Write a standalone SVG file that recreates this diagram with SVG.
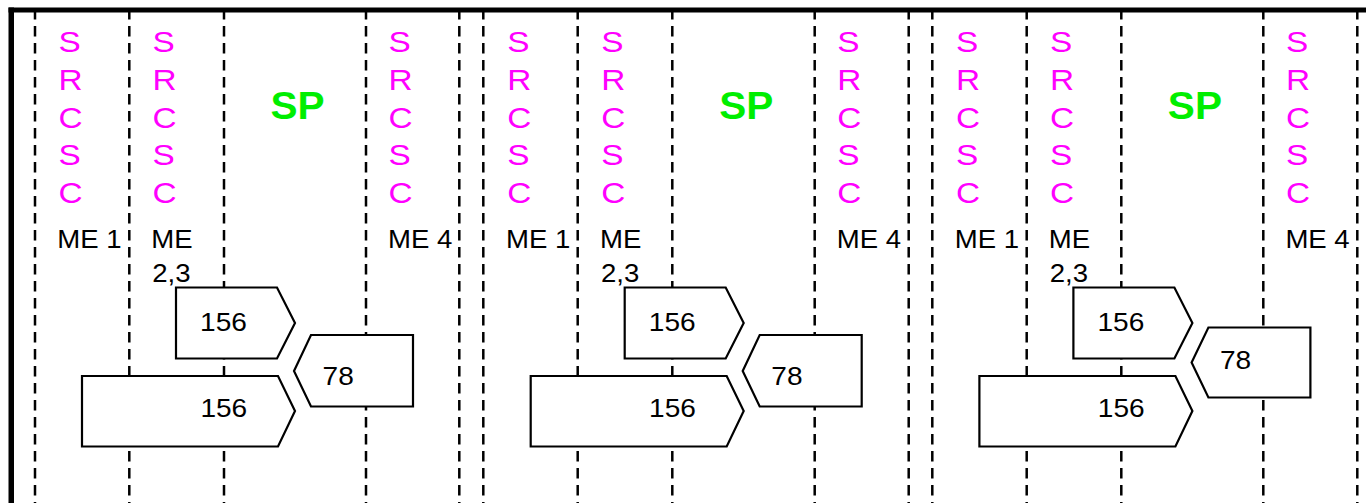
<svg xmlns="http://www.w3.org/2000/svg" width="1366" height="503" viewBox="0 0 1366 503">
<style>
.dash{stroke:#000;stroke-width:2.5;stroke-dasharray:10.5 6.5;fill:none}
.box{fill:#fff;stroke:#000;stroke-width:2.2}
.mg{font-family:"Liberation Sans",Arial,sans-serif;font-size:29px;fill:#ff00ff}
.sp{font-family:"Liberation Sans",Arial,sans-serif;font-size:39px;font-weight:bold;fill:#00ee00;text-anchor:middle}
.me{font-family:"Liberation Sans",Arial,sans-serif;font-size:26.5px;fill:#000}
.num{font-family:"Liberation Sans",Arial,sans-serif;font-size:26.5px;fill:#000;text-anchor:middle}
</style>
<rect width="1366" height="503" fill="#fff"/>
<g id="frame">
<rect x="8.5" y="7.5" width="1357.5" height="5" fill="#000"/>
<rect x="8.5" y="7.5" width="5.5" height="495.5" fill="#000"/>
</g>
<g id="connectors">
<line class="dash" x1="35" y1="9" x2="35" y2="503"/>
<line class="dash" x1="129.3" y1="9" x2="129.3" y2="503"/>
<line class="dash" x1="224" y1="9" x2="224" y2="503"/>
<line class="dash" x1="366" y1="9" x2="366" y2="503"/>
<line class="dash" x1="459.3" y1="9" x2="459.3" y2="503"/>
<line class="dash" x1="483.3" y1="9" x2="483.3" y2="503"/>
<line class="dash" x1="577.7" y1="9" x2="577.7" y2="503"/>
<line class="dash" x1="672.3" y1="9" x2="672.3" y2="503"/>
<line class="dash" x1="814.7" y1="9" x2="814.7" y2="503"/>
<line class="dash" x1="908.7" y1="9" x2="908.7" y2="503"/>
<line class="dash" x1="932.3" y1="9" x2="932.3" y2="503"/>
<line class="dash" x1="1026.7" y1="9" x2="1026.7" y2="503"/>
<line class="dash" x1="1121.3" y1="9" x2="1121.3" y2="503"/>
<line class="dash" x1="1263.3" y1="9" x2="1263.3" y2="503"/>
<line class="dash" x1="1357.3" y1="9" x2="1357.3" y2="503"/>
</g>

<g id="panel1-labels">
<g transform="translate(58.5,0) scale(1.15,1)"><text class="mg" x="0" y="52">S</text><text class="mg" x="0" y="89.8">R</text><text class="mg" x="0" y="127.6">C</text><text class="mg" x="0" y="165.4">S</text><text class="mg" x="0" y="203.2">C</text></g>
<g transform="translate(152.5,0) scale(1.15,1)"><text class="mg" x="0" y="52">S</text><text class="mg" x="0" y="89.8">R</text><text class="mg" x="0" y="127.6">C</text><text class="mg" x="0" y="165.4">S</text><text class="mg" x="0" y="203.2">C</text></g>
<g transform="translate(388.5,0) scale(1.15,1)"><text class="mg" x="0" y="52">S</text><text class="mg" x="0" y="89.8">R</text><text class="mg" x="0" y="127.6">C</text><text class="mg" x="0" y="165.4">S</text><text class="mg" x="0" y="203.2">C</text></g>
<text class="sp" transform="translate(297.5,119) scale(1.04,1)">SP</text>
<text class="me" transform="translate(57.3,248.3) scale(1.04,1)">ME 1</text>
<text class="me" transform="translate(151.3,248.3) scale(1.04,1)">ME</text>
<text class="me" transform="translate(152.3,281.5) scale(1.04,1)">2,3</text>
<text class="me" transform="translate(388,248.3) scale(1.04,1)">ME 4</text>
</g>
<g id="p1-box156a"><polygon class="box" points="176,287.5 277,287.5 295,323 277,358.5 176,358.5"/><text class="num" transform="translate(223.5,331.3) scale(1.06,1)">156</text></g>
<g id="p1-box156b"><polygon class="box" points="82,376 278,376 295,411 278,446.5 82,446.5"/><text class="num" transform="translate(223.8,417) scale(1.06,1)">156</text></g>
<g id="p1-box78"><polygon class="box" points="413,335 311,335 294,371 311,406.5 413,406.5"/><text class="num" transform="translate(338.2,384.7) scale(1.06,1)">78</text></g>

<g id="panel2-labels">
<g transform="translate(507.2,0) scale(1.15,1)"><text class="mg" x="0" y="52">S</text><text class="mg" x="0" y="89.8">R</text><text class="mg" x="0" y="127.6">C</text><text class="mg" x="0" y="165.4">S</text><text class="mg" x="0" y="203.2">C</text></g>
<g transform="translate(601.2,0) scale(1.15,1)"><text class="mg" x="0" y="52">S</text><text class="mg" x="0" y="89.8">R</text><text class="mg" x="0" y="127.6">C</text><text class="mg" x="0" y="165.4">S</text><text class="mg" x="0" y="203.2">C</text></g>
<g transform="translate(837.2,0) scale(1.15,1)"><text class="mg" x="0" y="52">S</text><text class="mg" x="0" y="89.8">R</text><text class="mg" x="0" y="127.6">C</text><text class="mg" x="0" y="165.4">S</text><text class="mg" x="0" y="203.2">C</text></g>
<text class="sp" transform="translate(746.2,119) scale(1.04,1)">SP</text>
<text class="me" transform="translate(506,248.3) scale(1.04,1)">ME 1</text>
<text class="me" transform="translate(600,248.3) scale(1.04,1)">ME</text>
<text class="me" transform="translate(601,281.5) scale(1.04,1)">2,3</text>
<text class="me" transform="translate(836.7,248.3) scale(1.04,1)">ME 4</text>
</g>
<g id="p2-box156a"><polygon class="box" points="624.7,287.5 725.7,287.5 743.7,323 725.7,358.5 624.7,358.5"/><text class="num" transform="translate(672.2,331.3) scale(1.06,1)">156</text></g>
<g id="p2-box156b"><polygon class="box" points="530.7,376 726.7,376 743.7,411 726.7,446.5 530.7,446.5"/><text class="num" transform="translate(672.5,417) scale(1.06,1)">156</text></g>
<g id="p2-box78"><polygon class="box" points="861.7,335 759.7,335 742.7,371 759.7,406.5 861.7,406.5"/><text class="num" transform="translate(786.9,384.7) scale(1.06,1)">78</text></g>

<g id="panel3-labels">
<g transform="translate(955.9,0) scale(1.15,1)"><text class="mg" x="0" y="52">S</text><text class="mg" x="0" y="89.8">R</text><text class="mg" x="0" y="127.6">C</text><text class="mg" x="0" y="165.4">S</text><text class="mg" x="0" y="203.2">C</text></g>
<g transform="translate(1049.9,0) scale(1.15,1)"><text class="mg" x="0" y="52">S</text><text class="mg" x="0" y="89.8">R</text><text class="mg" x="0" y="127.6">C</text><text class="mg" x="0" y="165.4">S</text><text class="mg" x="0" y="203.2">C</text></g>
<g transform="translate(1285.9,0) scale(1.15,1)"><text class="mg" x="0" y="52">S</text><text class="mg" x="0" y="89.8">R</text><text class="mg" x="0" y="127.6">C</text><text class="mg" x="0" y="165.4">S</text><text class="mg" x="0" y="203.2">C</text></g>
<text class="sp" transform="translate(1194.9,119) scale(1.04,1)">SP</text>
<text class="me" transform="translate(954.7,248.3) scale(1.04,1)">ME 1</text>
<text class="me" transform="translate(1048.7,248.3) scale(1.04,1)">ME</text>
<text class="me" transform="translate(1049.7,281.5) scale(1.04,1)">2,3</text>
<text class="me" transform="translate(1285.4,248.3) scale(1.04,1)">ME 4</text>
</g>
<g id="p3-box156a"><polygon class="box" points="1073.4,287.5 1174.4,287.5 1192.4,323 1174.4,358.5 1073.4,358.5"/><text class="num" transform="translate(1120.9,331.3) scale(1.06,1)">156</text></g>
<g id="p3-box156b"><polygon class="box" points="979.4,376 1175.4,376 1192.4,411 1175.4,446.5 979.4,446.5"/><text class="num" transform="translate(1121.2,417) scale(1.06,1)">156</text></g>
<g id="p3-box78"><polygon class="box" points="1310.4,327.5 1208.4,327.5 1191.6,362.5 1208.4,397.5 1310.4,397.5"/><text class="num" transform="translate(1235.6,369.3) scale(1.06,1)">78</text></g>
</svg>
